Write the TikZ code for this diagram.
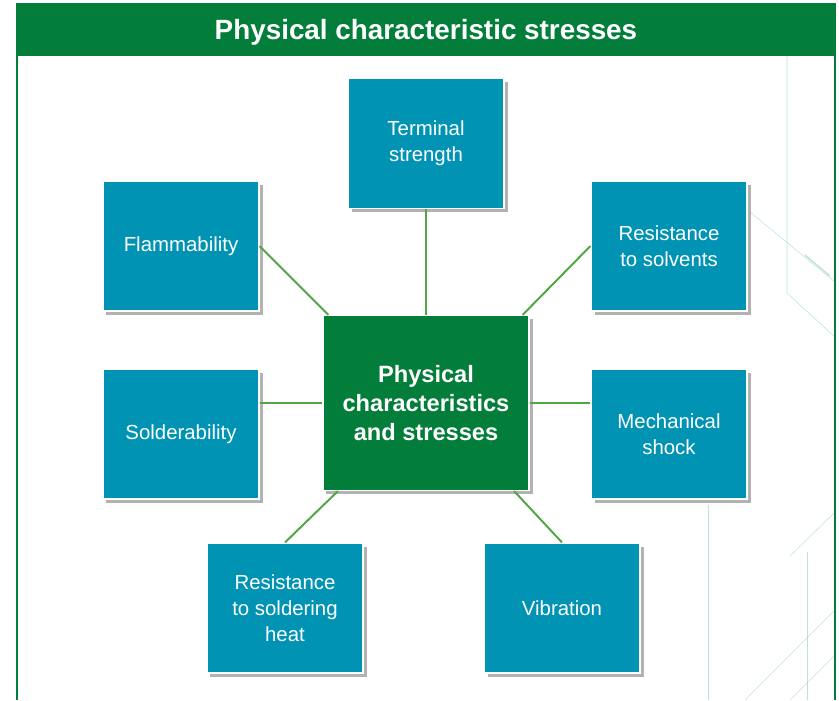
\documentclass[tikz,border=0pt]{standalone}
\usepackage{fontspec}
\setmainfont{Liberation Sans}
\usetikzlibrary{shadows,calc}
\definecolor{hdrgreen}{RGB}{3,125,58}
\definecolor{boxteal}{RGB}{0,147,180}
\definecolor{linkgreen}{RGB}{82,165,68}
\definecolor{circuit}{RGB}{110,195,150}
\begin{document}
\begin{tikzpicture}[x=0.025cm, y=-0.025cm,
    item/.style={rectangle, fill=boxteal, draw=white, line width=0.8pt, minimum width=3.9cm, minimum height=3.25cm, align=center, text=white, font=\fontsize{14.5}{18.4}\selectfont, drop shadow={shadow xshift=2.5pt, shadow yshift=-2.5pt, fill=black, opacity=0.3}},
    hubbox/.style={item, fill=hdrgreen, minimum width=5.15cm, minimum height=4.375cm, font=\fontsize{16.8}{20.5}\selectfont\bfseries},
    link/.style={draw=linkgreen, line width=1.4pt}]
    \useasboundingbox (0,0) rectangle (839,700);
    % faint circuit traces on the right
    \begin{scope}[draw=circuit, opacity=0.45, line width=0.4pt]
        \draw (787,56) -- (787,293) -- (835,337);
        \draw (750,212) -- (835,282);
        \draw[line width=1pt] (805,255) -- (830,276);
        \draw (708,505) -- (708,700);
        \draw (790,556) -- (835,512);
        \draw (807,552) -- (807,700);
        \draw (745,700) -- (835,610);
        \draw (790,700) -- (835,655);
    \end{scope}
    % frame and title bar
    \draw[hdrgreen, line width=1.5pt] (17,3) -- (17,700);
    \draw[hdrgreen, line width=1.5pt] (835,3) -- (835,700);
    \fill[hdrgreen] (16,3) rectangle (836,56);
    \node[text=white, font=\fontsize{19.8}{24}\selectfont\bfseries] (title) at (426,32) {Physical characteristic stresses};
    % boxes
    \node[hubbox] (hub) at (426,403) {Physical\\characteristics\\and stresses};
    \node[item] (term) at (426,143.5) {Terminal\\strength};
    \node[item] (flam) at (181,246) {Flammability};
    \node[item] (solv) at (669,246) {Resistance\\to solvents};
    \node[item] (solder) at (181,434) {Solderability};
    \node[item] (mech) at (669,434) {Mechanical\\shock};
    \node[item] (heat) at (285,608) {Resistance\\to soldering\\heat};
    \node[item] (vib) at (562,608) {Vibration};
    % links
    \draw[link] (term.south) -- (hub.north);
    \draw[link] (flam.east) -- ($(hub.north west)+(6,0)$);
    \draw[link] (solv.west) -- ($(hub.north east)+(-7,0)$);
    \draw[link] (hub.west) -- (hub.west -| solder.east);
    \draw[link] (hub.east) -- (hub.east -| mech.west);
    \draw[link] (heat.north) -- (hub.225);
    \draw[link] (vib.north) -- (hub.315);
\end{tikzpicture}
\end{document}
